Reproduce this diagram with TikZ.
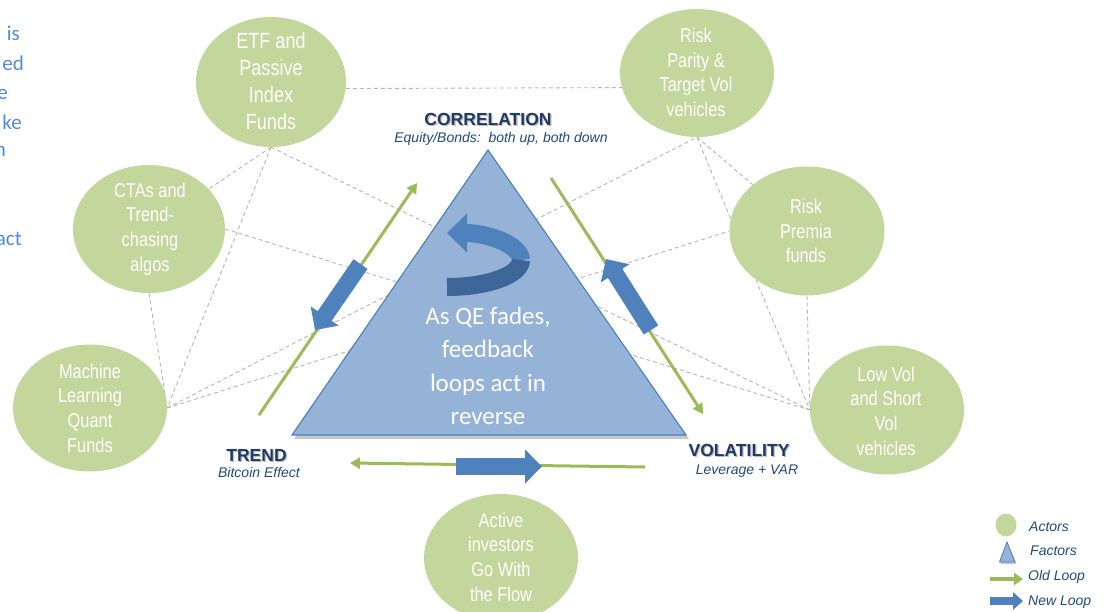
\documentclass[tikz,border=0pt]{standalone}
\usepackage{fontspec}
\setmainfont{Liberation Sans}
\newfontfamily\narrowfont[FakeStretch=0.82]{Liberation Sans}
\newfontfamily\calfont{Carlito}
\usetikzlibrary{shapes.geometric,arrows.meta}
\definecolor{actorgreen}{HTML}{C3D69B}
\definecolor{trifill}{HTML}{95B3D7}
\definecolor{triedge}{HTML}{4A7EBB}
\definecolor{oldgreen}{HTML}{9BBB59}
\definecolor{newblue}{HTML}{4F81BD}
\definecolor{bandlight}{HTML}{4F81BD}
\definecolor{banddark}{HTML}{3D6597}
\definecolor{navy}{HTML}{1F3A68}
\definecolor{subblue}{HTML}{1F497D}
\definecolor{linkgray}{HTML}{B4B4B4}
\definecolor{sidetext}{HTML}{4F8BD9}
\pgfdeclarelayer{bg}
\pgfsetlayers{bg,main}
\begin{document}
\begin{tikzpicture}[x=1pt,y=-1pt,
  actor/.style={ellipse, fill=actorgreen, draw=none, inner sep=0pt},
  actortext/.style={text=white, align=center, inner sep=0pt, font=\narrowfont\fontsize{20}{24.7}\selectfont},
  link/.style={draw=linkgray, dash pattern=on 4pt off 3pt, line width=0.9pt},
  oldloop/.style={draw=oldgreen, line width=3pt, -{Triangle[width=11pt,length=10pt]}},
  newloop/.style={draw=newblue, line width=17pt, -{Triangle[width=33pt,length=17pt]}},
  factor/.style={inner sep=0pt, text=navy, font=\bfseries\fontsize{17.5}{20}\selectfont},
  factorshadow/.style={inner sep=0pt, text=black!45, opacity=0.6, font=\bfseries\fontsize{17.5}{20}\selectfont},
  factorsub/.style={inner sep=0pt, text=subblue, font=\itshape\fontsize{14}{16}\selectfont},
  legendtext/.style={inner sep=0pt, anchor=west, text=subblue, font=\itshape\fontsize{14}{16}\selectfont},
  sidefrag/.style={inner sep=0pt, anchor=base east, text=sidetext, font=\calfont\fontsize{21}{25}\selectfont},
]
\clip (0,0) rectangle (1107,612);

% ---------- actors ----------
\node[actor, minimum width=150pt, minimum height=130pt] (etf) at (271,82) {};
\node[actor, minimum width=152pt, minimum height=128pt] (cta) at (149,229) {};
\node[actor, minimum width=154pt, minimum height=127pt] (ml) at (90,408) {};
\node[actor, minimum width=154pt, minimum height=128pt] (rp) at (697,73) {};
\node[actor, minimum width=155pt, minimum height=129pt] (rpm) at (807,231) {};
\node[actor, minimum width=154pt, minimum height=129pt] (lv) at (887,410) {};
\node[actor, minimum width=154pt, minimum height=128pt] (act) at (501,558) {};

\node[actortext, font=\narrowfont\fontsize{22}{27}\selectfont] (etft) at (271,81) {ETF and\\Passive\\Index\\Funds};
\node[actortext] (ctat) at (150,229) {CTAs and\\Trend-\\chasing\\algos};
\node[actortext] (mlt) at (90,408) {Machine\\Learning\\Quant\\Funds};
\node[actortext] (rpt) at (696,72.5) {Risk\\Parity \&\\Target Vol\\vehicles};
\node[actortext] (rpmt) at (806,231) {Risk\\Premia\\funds};
\node[actortext] (lvt) at (886,411) {Low Vol\\and Short\\Vol\\vehicles};
\node[actortext] (actt) at (501,557) {Active\\investors\\Go With\\the Flow};

% ---------- dashed links (behind) ----------
\begin{pgfonlayer}{bg}
\draw[link] (etf.-5) -- (rp.191);
\draw[link] (etf.south) -- (cta);
\draw[link] (etf.south) -- (ml.east);
\draw[link] (etf.south) -- (lv.west);
\draw[link] (cta.east) -- (lv.west);
\draw[link] (cta.south) -- (ml.east);
\draw[link] (ml.east) -- (rp.south);
\draw[link] (ml.east) -- (rpm.west);
\draw[link] (rp.south) -- (rpm);
\draw[link] (rp.south) -- (lv.west);
\draw[link] (rpm.south) -- (lv.west);
\end{pgfonlayer}

% ---------- factor triangle ----------
\coordinate (tA) at (488,150);
\coordinate (tB) at (292,435);
\coordinate (tC) at (686,435);
\fill[black, opacity=0.22] (490,153) -- (294,439) -- (689,439) -- cycle;
\filldraw[fill=trifill, draw=triedge, line width=1.1pt] (tA) -- (tB) -- (tC) -- cycle;

% curved arrow inside triangle
\coordinate (cv1) at (521,260);
\coordinate (cv2) at (447,287);
\draw[bandlight, line width=18pt, -{Triangle[width=38pt,length=20pt]}] (cv1) arc (0:-90:74 and 27);
\draw[banddark, line width=18pt] (cv2) arc (90:0:74 and 27);

\node[text=white, align=center, inner sep=0pt, font=\calfont\fontsize{25}{33.3}\selectfont] (qe) at (488,366) {As QE fades,\\feedback\\loops act in\\reverse};

% ---------- factor labels ----------
\node[factorshadow] (corrs) at (489.3,120.5) {CORRELATION};
\node[factor] (corr) at (488,119) {CORRELATION};
\node[factorsub] (corrsub) at (501,139) {Equity/Bonds:\ \ both up, both down};
\node[factorshadow] (trends) at (257.8,456.5) {TREND};
\node[factor] (trend) at (256.5,455) {TREND};
\node[factorsub] (trendsub) at (259,472) {Bitcoin Effect};
\node[factorshadow] (vols) at (740.3,451.5) {VOLATILITY};
\node[factor] (vol) at (739,450) {VOLATILITY};
\node[factorsub] (volsub) at (747,471) {Leverage + VAR};

% ---------- old loop (green) ----------
\coordinate (g1s) at (259,415);
\coordinate (g1e) at (417,183);
\coordinate (g2s) at (551,178);
\coordinate (g2e) at (703,414);
\coordinate (g3s) at (645,467);
\coordinate (g3e) at (350,463);
\draw[oldloop] (g1s) -- (g1e);
\draw[oldloop] (g2s) -- (g2e);
\draw[oldloop] (g3s) -- (g3e);

% ---------- new loop (blue) ----------
\coordinate (b1s) at (360.5,264);
\coordinate (b1e) at (315,330);
\coordinate (b2s) at (651,330);
\coordinate (b2e) at (606,259);
\coordinate (b3s) at (456,466.5);
\coordinate (b3e) at (542,466.5);
\draw[newloop] (b1s) -- (b1e);
\draw[newloop] (b2s) -- (b2e);
\draw[newloop] (b3s) -- (b3e);

% ---------- legend ----------
\node[ellipse, fill=actorgreen, inner sep=0pt, minimum width=21pt, minimum height=23pt] (lgact) at (1006,525) {};
\node[legendtext] (lgactt) at (1029,527) {Actors};
\fill[black, opacity=0.22] (1008,544) -- (1000.5,564) -- (1016.5,564) -- cycle;
\filldraw[fill=trifill, draw=triedge, line width=0.8pt] (1007,542) -- (999.5,562) -- (1015,562) -- cycle;
\node[legendtext] (lgfac) at (1030,551) {Factors};
\coordinate (lo1) at (990,579);
\coordinate (lo2) at (1023,579);
\draw[oldgreen, line width=4pt, -{Triangle[width=12pt,length=9pt]}] (lo1) -- (lo2);
\node[legendtext] (lgold) at (1028,577) {Old Loop};
\coordinate (ln1) at (990,601);
\coordinate (ln2) at (1023,601);
\draw[newblue, line width=8pt, -{Triangle[width=17pt,length=10pt]}] (ln1) -- (ln2);
\node[legendtext] (lgnew) at (1028,602) {New Loop};

% ---------- clipped side text ----------
\node[sidefrag] (s1) at (20,41) {is};
\node[sidefrag] (s2) at (24,71) {ed};
\node[sidefrag] (s3) at (8,100) {e};
\node[sidefrag] (s4) at (22,130) {ke};
\node[sidefrag] (s5) at (6,157) {n};
\node[sidefrag] (s6) at (22,245) {act};
\end{tikzpicture}
\end{document}
